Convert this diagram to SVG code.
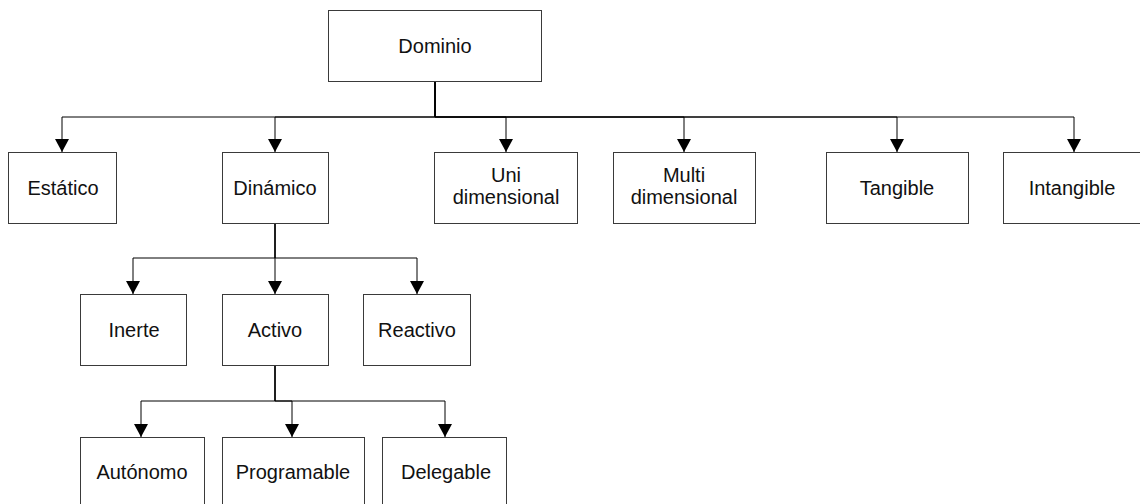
<svg xmlns="http://www.w3.org/2000/svg" width="1140" height="504" viewBox="0 0 1140 504">
  <style>
    .box { fill: #ffffff; stroke: #3a3a3a; stroke-width: 1; }
    .lbl { font-family: "Liberation Sans", Arial, sans-serif; font-size: 20px; fill: #111111; text-anchor: middle; }
    .conn { fill: none; stroke: #000000; stroke-width: 1; marker-end: url(#arrow); }
  </style>
  <defs>
    <marker id="arrow" markerUnits="userSpaceOnUse" markerWidth="14" markerHeight="14" viewBox="0 0 14 14" refX="13" refY="7" orient="auto">
      <path d="M0,0 L13,7 L0,14 Z" fill="#000000"/>
    </marker>
  </defs>
  <rect width="1140" height="504" fill="#ffffff"/>

  <g id="connectors">
    <path class="conn" d="M435,81 V117 H62 V152"/>
    <path class="conn" d="M435,81 V117 H275 V152"/>
    <path class="conn" d="M435,81 V117 H506 V152"/>
    <path class="conn" d="M435,81 V117 H684 V152"/>
    <path class="conn" d="M435,81 V117 H897 V152"/>
    <path class="conn" d="M435,81 V117 H1074 V152"/>
    <path class="conn" d="M275,223 V258 H133 V294"/>
    <path class="conn" d="M275,223 V258 V294"/>
    <path class="conn" d="M275,223 V258 H417 V294"/>
    <path class="conn" d="M275,366 V401 H141 V437"/>
    <path class="conn" d="M275,366 V401 H292 V437"/>
    <path class="conn" d="M275,366 V401 H445 V437"/>
  </g>

  <g id="dominio">
    <rect class="box" x="328.5" y="10.5" width="213" height="71"/>
    <text class="lbl" x="435" y="52.5">Dominio</text>
  </g>
  <g id="estatico">
    <rect class="box" x="8.5" y="152.5" width="108" height="71"/>
    <text class="lbl" x="63" y="194.5">Estático</text>
  </g>
  <g id="dinamico">
    <rect class="box" x="222.5" y="152.5" width="106" height="71"/>
    <text class="lbl" x="275" y="194.5">Dinámico</text>
  </g>
  <g id="unidimensional">
    <rect class="box" x="434.5" y="152.5" width="143" height="71"/>
    <text class="lbl" x="506" y="182">Uni</text>
    <text class="lbl" x="506" y="204">dimensional</text>
  </g>
  <g id="multidimensional">
    <rect class="box" x="613.5" y="152.5" width="142" height="71"/>
    <text class="lbl" x="684" y="182">Multi</text>
    <text class="lbl" x="684" y="204">dimensional</text>
  </g>
  <g id="tangible">
    <rect class="box" x="826.5" y="152.5" width="142" height="71"/>
    <text class="lbl" x="897" y="194.5">Tangible</text>
  </g>
  <g id="intangible">
    <rect class="box" x="1003.5" y="152.5" width="142" height="71"/>
    <text class="lbl" x="1072" y="194.5">Intangible</text>
  </g>
  <g id="inerte">
    <rect class="box" x="80.5" y="294.5" width="106" height="71"/>
    <text class="lbl" x="134" y="336.5">Inerte</text>
  </g>
  <g id="activo">
    <rect class="box" x="222.5" y="294.5" width="106" height="71"/>
    <text class="lbl" x="275" y="336.5">Activo</text>
  </g>
  <g id="reactivo">
    <rect class="box" x="363.5" y="294.5" width="107" height="71"/>
    <text class="lbl" x="417" y="336.5">Reactivo</text>
  </g>
  <g id="autonomo">
    <rect class="box" x="80.5" y="437.5" width="124" height="71"/>
    <text class="lbl" x="142" y="479">Autónomo</text>
  </g>
  <g id="programable">
    <rect class="box" x="222.5" y="437.5" width="142" height="71"/>
    <text class="lbl" x="293" y="479">Programable</text>
  </g>
  <g id="delegable">
    <rect class="box" x="382.5" y="437.5" width="124" height="71"/>
    <text class="lbl" x="446" y="479">Delegable</text>
  </g>
</svg>
